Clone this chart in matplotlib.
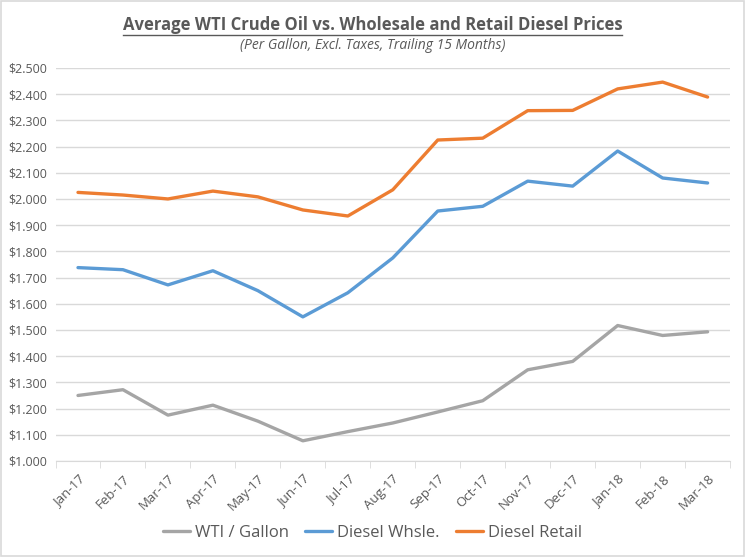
import numpy as np
import matplotlib.pyplot as plt
from matplotlib.lines import Line2D
from matplotlib.patches import Rectangle
from matplotlib.ticker import FuncFormatter, FixedLocator

months = ['Jan-17', 'Feb-17', 'Mar-17', 'Apr-17', 'May-17', 'Jun-17', 'Jul-17', 'Aug-17',
          'Sep-17', 'Oct-17', 'Nov-17', 'Dec-17', 'Jan-18', 'Feb-18', 'Mar-18']
wti = [1.250, 1.272, 1.175, 1.213, 1.152, 1.077, 1.112, 1.145, 1.187, 1.230, 1.348, 1.380, 1.517, 1.479, 1.493]
whsle = [1.738, 1.730, 1.672, 1.726, 1.650, 1.550, 1.642, 1.775, 1.954, 1.972, 2.068, 2.049, 2.183, 2.080, 2.061]
retail = [2.025, 2.015, 2.000, 2.030, 2.008, 1.958, 1.935, 2.035, 2.225, 2.232, 2.337, 2.338, 2.420, 2.446, 2.389]

plt.rcParams['font.family'] = ['Open Sans', 'DejaVu Sans']
txt = '#595959'

fig = plt.figure(figsize=(7.45, 5.57), dpi=100)
fig.patches.append(Rectangle((0.002, 0.002), 0.996, 0.996, transform=fig.transFigure,
                             fill=False, edgecolor='#d9d9d9', linewidth=1.2))
ax = fig.add_axes([0.0745, 0.1724, 0.9055, 0.7056])

x = np.arange(len(months))
ax.plot(x, wti, color='#A5A5A5', linewidth=2.4, label='WTI / Gallon', solid_capstyle='round')
ax.plot(x, whsle, color='#5B9BD5', linewidth=2.4, label='Diesel Whsle.', solid_capstyle='round')
ax.plot(x, retail, color='#ED7D31', linewidth=2.4, label='Diesel Retail', solid_capstyle='round')

ax.set_xlim(-0.5, 14.5)
ax.set_ylim(1.0, 2.5)
ax.set_yticks(np.arange(1.0, 2.51, 0.1))
ax.yaxis.set_major_formatter(FuncFormatter(lambda v, p: f'${v:.3f}'))
ax.grid(axis='y', color='#d9d9d9', linewidth=1)
ax.set_axisbelow(True)

ax.set_xticks(x)
ax.set_xticklabels(months, rotation=45, ha='right', rotation_mode='anchor')
ax.xaxis.set_minor_locator(FixedLocator(np.arange(-0.5, 15, 1)))
ax.tick_params(axis='x', which='major', length=0, pad=8, labelsize=9.5, labelcolor=txt)
ax.tick_params(axis='x', which='minor', length=5, color='#d9d9d9')
ax.tick_params(axis='y', length=0, labelsize=9, labelcolor=txt, pad=6)
for s in ['top', 'right', 'left']:
    ax.spines[s].set_visible(False)
ax.spines['bottom'].set_color('#d9d9d9')

title = fig.text(0.5, 0.955, 'Average WTI Crude Oil vs. Wholesale and Retail Diesel Prices',
                 ha='center', va='center', fontsize=12, fontweight='bold', color=txt)
fig.text(0.5, 0.918, '(Per Gallon, Excl. Taxes, Trailing 15 Months)', ha='center', va='center',
         fontsize=10, style='italic', color=txt)

fig.legend(loc='center', bbox_to_anchor=(0.5, 0.043), ncol=3, frameon=False, fontsize=12,
           labelcolor=txt, handlelength=1.6, handletextpad=0.3, columnspacing=1.0)

fig.canvas.draw()
bb = title.get_window_extent().transformed(fig.transFigure.inverted())
fig.lines.append(Line2D([bb.x0, bb.x1], [bb.y0 - 0.002, bb.y0 - 0.002], transform=fig.transFigure,
                        color=txt, linewidth=1))

fig.savefig('out.png', dpi=100)
